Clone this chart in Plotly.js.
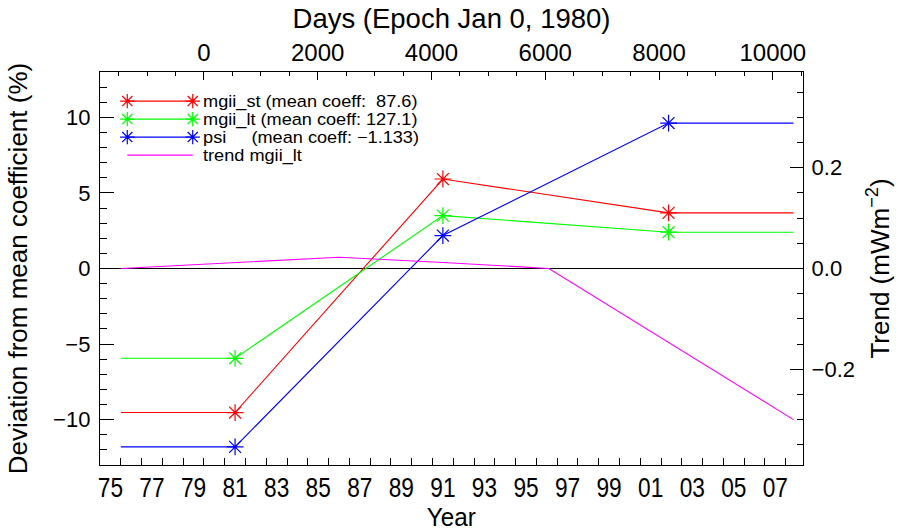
<!DOCTYPE html>
<html><head><meta charset="utf-8">
<script src="https://cdn.plot.ly/plotly-3.0.1.min.js"></script>
<style>html,body{margin:0;padding:0;background:#fff}</style>
</head><body><div id="chart" style="width:898px;height:531px"></div>
<script>
// ---- data ----
const epochYears = [1981.5, 1991.5, 2002.36];
const spanStart = 1976.0;
const spanEnd = 2008.37;
const mgiiSt = [-9.53, 5.92, 3.68];
const mgiiLt = [-5.94, 3.50, 2.40];
const psi = [-11.8, 2.18, 9.62];
const trendYears = [1976.0, 1986.5, 1991.5, 1996.6, 2008.37];
const trendMgiiLt = [0.0, 0.0224, 0.012, 0.0, -0.30];
const seriesNames = ['mgii_st (mean coeff:\u00a0\u00a087.6)', 'mgii_lt (mean coeff: 127.1)', 'psi\u00a0\u00a0\u00a0\u00a0\u00a0(mean coeff: \u22121.133)', 'trend mgii_lt'];
const seriesColors = ['#ff0000', '#00ff00', '#0000ff', '#ff00ff'];
const yearTickLabels = ['75','77','79','81','83','85','87','89','91','93','95','97','99','01','03','05','07'];
const dayTicks = [0, 2000, 4000, 6000, 8000, 10000];
const leftTicks = [-10, -5, 0, 5, 10];
const leftTickText = ['\u221210', '\u22125', '0', '5', '10'];
const rightTicks = [-0.2, 0.0, 0.2];
const rightTickText = ['\u22120.2', '0.0', '0.2'];

// ---- helpers ----
const xRange = [1975, 2008.83];
const epoch = 1980, daysPerYear = 365.25;
const dayRange = xRange.map(y => (y - epoch) * daysPerYear);
const yearLabelPos = yearTickLabels.map(s => { const v = parseInt(s, 10); return (v >= 50 ? 1900 + v : 2000 + v) + 0.5; });
const lineX = [spanStart, ...epochYears, spanEnd];
const ext = a => [a[0], ...a, a[a.length - 1]];
const FONT = 'Liberation Sans, Arial, Helvetica, sans-serif';

const dataSets = [mgiiSt, mgiiLt, psi];
const traces = [];
// invisible anchors so the overlaying label axes get drawn
traces.push({x: dayRange, y: [null, null], type: 'scatter', mode: 'none', xaxis: 'x2', yaxis: 'y', hoverinfo: 'skip', showlegend: false});
traces.push({x: xRange, y: [null, null], type: 'scatter', mode: 'none', xaxis: 'x3', yaxis: 'y', hoverinfo: 'skip', showlegend: false});
dataSets.forEach((d, i) => {
  traces.push({x: lineX, y: ext(d), type: 'scatter', mode: 'lines', line: {color: seriesColors[i], width: 1.1}, xaxis: 'x', yaxis: 'y', hoverinfo: 'skip'});
  traces.push({x: epochYears, y: d, type: 'scatter', mode: 'markers', marker: {symbol: 'asterisk-open', size: 14, color: seriesColors[i], line: {color: seriesColors[i], width: 1.2}}, xaxis: 'x', yaxis: 'y', hoverinfo: 'skip'});
});
traces.push({x: trendYears, y: trendMgiiLt, type: 'scatter', mode: 'lines', line: {color: seriesColors[3], width: 1.1}, xaxis: 'x', yaxis: 'y2', hoverinfo: 'skip'});

// ---- custom legend (plot-fraction coords on hidden axes) ----
const legX0 = 0.0388, legX1 = 0.1319, legTextX = 0.143, legY0 = 0.926, legDy = 0.0458;
const annotations = [];
seriesNames.forEach((name, i) => {
  const yy = legY0 - i * legDy;
  traces.push({x: [legX0, legX1], y: [yy, yy], type: 'scatter', mode: i < 3 ? 'lines+markers' : 'lines',
    line: {color: seriesColors[i], width: 1.1},
    marker: {symbol: 'asterisk-open', size: 12, color: seriesColors[i], line: {color: seriesColors[i], width: 1.2}},
    xaxis: 'x4', yaxis: 'y4', hoverinfo: 'skip'});
  annotations.push({xref: 'paper', yref: 'paper', x: legTextX, y: yy, xanchor: 'left', yanchor: 'middle',
    text: name, showarrow: false, font: {family: FONT, size: 16.5, color: '#000'}});
});
// bottom axis title (drawn as annotation so it can sit close to the labels)
annotations.push({xref: 'paper', yref: 'paper', x: 0.5, y: -0.132, xanchor: 'center', yanchor: 'middle',
  text: 'Year', showarrow: false, font: {family: FONT, size: 25, color: '#000'}});

const layout = {
  width: 898, height: 531,
  margin: {l: 100, r: 95, t: 72, b: 66, pad: 0},
  paper_bgcolor: '#ffffff', plot_bgcolor: 'rgba(0,0,0,0)',
  showlegend: false,
  xaxis: {range: xRange, tickmode: 'linear', tick0: 1975, dtick: 1, ticks: 'inside', ticklen: 7, tickcolor: '#000', tickwidth: 1,
    showticklabels: false, showgrid: false, zeroline: false, showline: true, linecolor: '#000', linewidth: 1.2},
  xaxis3: {overlaying: 'x', side: 'bottom', anchor: 'y', range: xRange, tickmode: 'array', tickvals: yearLabelPos, ticktext: yearTickLabels,
    ticks: '', showgrid: false, zeroline: false, showline: false, ticklabelstandoff: 4,
    tickfont: {family: FONT, size: 27, color: '#000'}},
  xaxis2: {overlaying: 'x', side: 'top', anchor: 'y', range: dayRange, tickmode: 'array', tickvals: dayTicks, ticktext: dayTicks.map(String),
    ticks: 'inside', ticklen: 8, tickcolor: '#000', showgrid: false, zeroline: false, showline: true, linecolor: '#000', linewidth: 1.2,
    minor: {tick0: 0, dtick: 500, ticks: 'inside', ticklen: 4, tickcolor: '#000', showgrid: false},
    ticklabelstandoff: 0,
    tickfont: {family: FONT, size: 24, color: '#000'},
    title: {text: 'Days (Epoch Jan 0, 1980)', font: {family: FONT, size: 27.5, color: '#000'}, standoff: 2}},
  yaxis: {range: [-13, 13], tickmode: 'array', tickvals: leftTicks, ticktext: leftTickText, ticks: 'inside', ticklen: 14, tickcolor: '#000',
    minor: {tick0: 0, dtick: 1, ticks: 'inside', ticklen: 7, tickcolor: '#000', showgrid: false},
    showgrid: false, zeroline: true, zerolinecolor: '#000', zerolinewidth: 1.2, showline: true, linecolor: '#000', linewidth: 1.2,
    ticklabelstandoff: 4,
    tickfont: {family: FONT, size: 22, color: '#000'},
    title: {text: 'Deviation from mean coefficient (%)', font: {family: FONT, size: 26, color: '#000'}, standoff: 18}},
  yaxis2: {overlaying: 'y', side: 'right', anchor: 'x', range: [-0.39, 0.39], tickmode: 'array', tickvals: rightTicks, ticktext: rightTickText,
    ticks: 'inside', ticklen: 13, tickcolor: '#000',
    minor: {tick0: 0, dtick: 0.05, ticks: 'inside', ticklen: 6, tickcolor: '#000', showgrid: false},
    showgrid: false, zeroline: false, showline: true, linecolor: '#000', linewidth: 1.2,
    ticklabelstandoff: 3,
    tickfont: {family: FONT, size: 22, color: '#000'},
    title: {text: 'Trend (mWm<sup>\u22122</sup>)', font: {family: FONT, size: 26, color: '#000'}, standoff: 16}},
  xaxis4: {overlaying: 'x', range: [0, 1], visible: false, fixedrange: true},
  yaxis4: {overlaying: 'y', range: [0, 1], visible: false, fixedrange: true},
  annotations: annotations
};

// rescale a text element horizontally about its own centre (the reference face has different proportions)
function stretchX(el, s) {
  const bb = el.getBBox();
  const cx = bb.x + bb.width / 2;
  const tr = el.getAttribute('transform') || '';
  el.setAttribute('transform', tr + ' translate(' + cx + ',0) scale(' + s + ',1) translate(' + (-cx) + ',0)');
}
function stretchLeft(el, s) {
  const bb = el.getBBox();
  const x0 = bb.x;
  const tr = el.getAttribute('transform') || '';
  el.setAttribute('transform', tr + ' translate(' + x0 + ',0) scale(' + s + ',1) translate(' + (-x0) + ',0)');
}

Plotly.newPlot('chart', traces, layout, {staticPlot: true, displayModeBar: false}).then(gd => {
  gd.querySelectorAll('.x3tick text').forEach(t => stretchX(t, 0.84));
  for (let i = 0; i < seriesNames.length; i++) {
    const el = gd.querySelector('.annotation[data-index="' + i + '"] text');
    if (el) stretchLeft(el, 1.1);
  }
  const yearIdx = annotations.length - 1;
  const ann = gd.querySelector('.annotation[data-index="' + yearIdx + '"] text');
  if (ann) stretchX(ann, 0.97);
});
</script></body></html>
